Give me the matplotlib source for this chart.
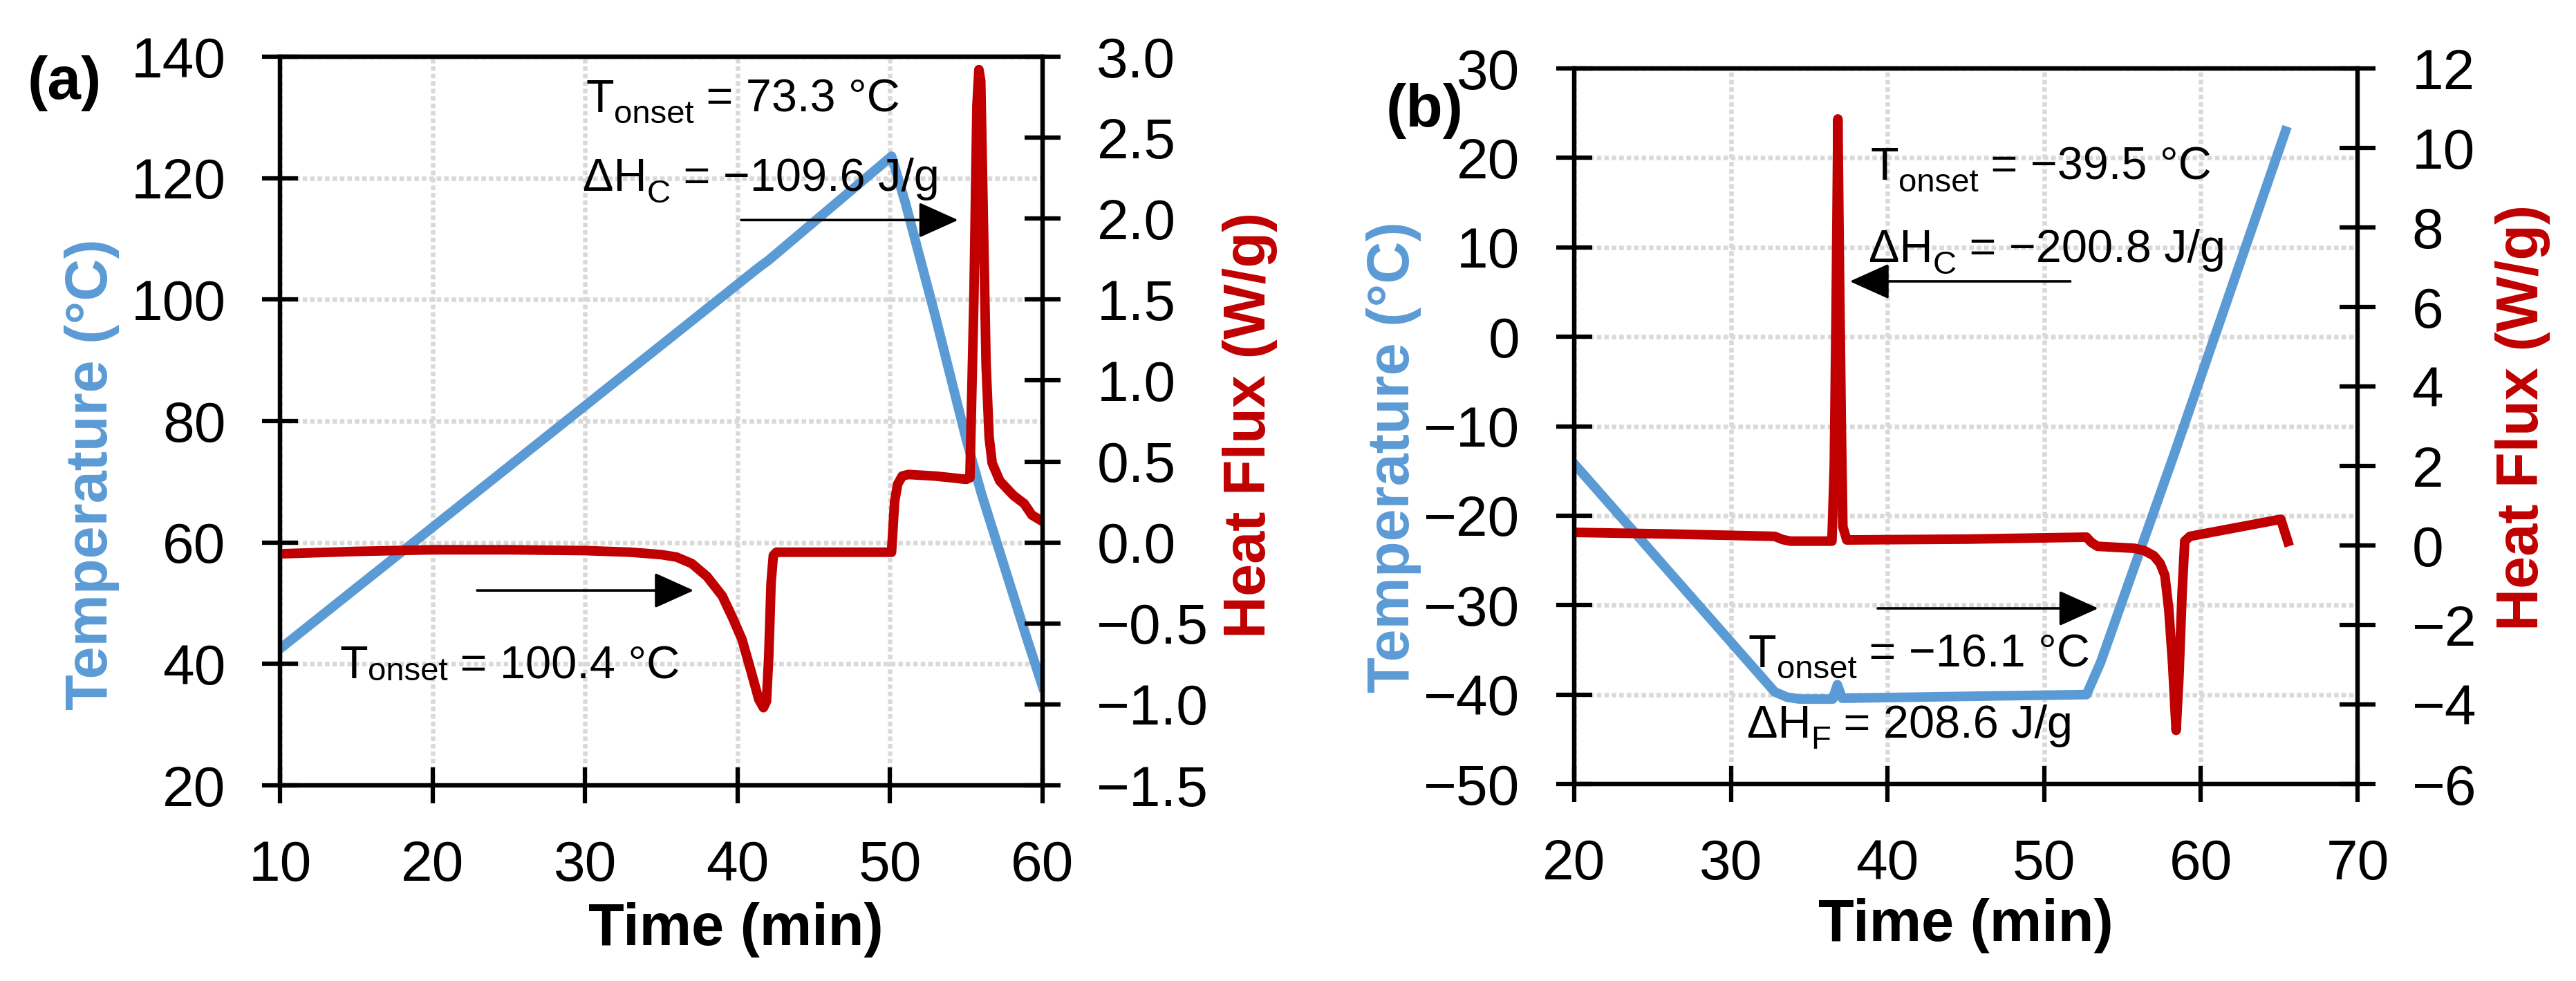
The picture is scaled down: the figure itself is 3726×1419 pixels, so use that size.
import numpy as np
import matplotlib
matplotlib.use('Agg')
from matplotlib import pyplot as plt
from matplotlib.ticker import FuncFormatter

plt.rcParams['font.family'] = ['Liberation Sans', 'DejaVu Sans']

BLUE = '#5b9bd5'
RED = '#c00000'
GRID = '#d9d9d9'

TICK_FS = 59
LABEL_FS = 61
NOTE_FS = 48
SUB_FS = 34
LW = 10

# (a) temperature programme and heat flux
time_a_temp = [10, 41.5, 42.0, 50.1, 51, 52, 53, 54, 55, 56, 57, 58, 59, 60]
temp_a = [42.5, 105.5, 106.4, 123.6, 116, 106.5, 97, 87, 77, 68, 60, 52, 44, 36.3]

time_a_flux = [10, 15, 20, 25, 30, 33, 35, 36, 37, 38, 39, 39.7, 40.3, 40.9, 41.4,
               41.7, 41.9, 42.05, 42.2, 42.35, 42.55, 46, 50.1, 50.3, 50.5, 50.8,
               51.2, 53, 55.0, 55.24, 55.5, 55.7, 55.83, 55.95, 56.1, 56.3, 56.5,
               56.7, 57.2, 58.1, 58.8, 59.3, 60]
flux_a = [-0.07, -0.055, -0.045, -0.045, -0.05, -0.06, -0.075, -0.09, -0.13, -0.21,
          -0.33, -0.47, -0.60, -0.80, -0.97, -1.02, -0.98, -0.70, -0.25, -0.08,
          -0.06, -0.06, -0.06, 0.25, 0.36, 0.41, 0.42, 0.41, 0.39, 0.40, 1.5, 2.7,
          2.92, 2.85, 2.1, 1.1, 0.65, 0.49, 0.38, 0.29, 0.24, 0.17, 0.13]

# (b) temperature programme and heat flux
time_b_temp = [20, 32.8, 33.6, 34.4, 36.5, 36.8, 37.1, 37.5, 45, 52.7, 53.6, 58.3, 65.4]
temp_b = [-14.2, -39.7, -40.3, -40.5, -40.5, -38.9, -40.4, -40.4, -40.2, -40.0,
          -36.4, -13.1, 23.0]

time_b_flux = [20, 26, 32.8, 33.3, 33.8, 36.45, 36.6, 36.72, 36.83, 36.93, 37.05,
               37.15, 37.4, 45, 52.7, 53.0, 53.4, 55.75, 56.4, 57.0, 57.4, 57.7,
               57.95, 58.2, 58.42, 58.6, 58.8, 58.97, 59.3, 65.1, 65.55]
flux_b = [0.33, 0.29, 0.23, 0.15, 0.11, 0.11, 2.0, 6.0, 10.73, 7.0, 3.0, 0.47, 0.14,
          0.16, 0.21, 0.08, -0.02, -0.07, -0.13, -0.26, -0.45, -0.75, -1.6, -3.0,
          -4.65, -3.3, -1.2, 0.11, 0.23, 0.66, 0.10]

xticks_a = [10, 20, 30, 40, 50, 60]
yticks_a = [20, 40, 60, 80, 100, 120, 140]
y2ticks_a = [-1.5, -1.0, -0.5, 0.0, 0.5, 1.0, 1.5, 2.0, 2.5, 3.0]
xticks_b = [20, 30, 40, 50, 60, 70]
yticks_b = [-50, -40, -30, -20, -10, 0, 10, 20, 30]
y2ticks_b = [-6, -4, -2, 0, 2, 4, 6, 8, 10, 12]


def minus(s):
    return s.replace('-', '\u2212')


def fig_setup(fig, rect, xticks, yticks, y2ticks, y2fmt):
    ax = fig.add_axes(rect)
    ax2 = ax.twinx()
    ax.set_xlim(xticks[0], xticks[-1])
    ax.set_ylim(yticks[0], yticks[-1])
    ax2.set_ylim(y2ticks[0], y2ticks[-1])
    ax.set_xticks(xticks)
    ax.set_yticks(yticks)
    ax2.set_yticks(y2ticks)
    ax2.yaxis.set_major_formatter(FuncFormatter(lambda v, p: minus(y2fmt % v)))
    ax.grid(True, color=GRID, lw=4.7, linestyle=(0, (1.0, 0.65)))
    for a in (ax, ax2):
        for sp in a.spines.values():
            sp.set_linewidth(4.5)
        a.tick_params(direction='inout', length=37, width=4.5, pad=38,
                      labelsize=TICK_FS)
    return ax, ax2


def sub_text(ax2, ref, x, y, main, sub, rest, drop=12):
    # main text, lowered subscript, then the rest back on the main baseline
    base = 0.212 * NOTE_FS
    t1 = ax2.text(x, y, main, transform=ref.transData, fontsize=NOTE_FS,
                  va='baseline', zorder=5)
    t2 = ax2.annotate(sub, xy=(1, 0), xycoords=t1, xytext=(0, base - drop),
                      textcoords='offset points', fontsize=SUB_FS,
                      va='baseline', zorder=5)
    ax2.annotate(rest, xy=(1, 0), xycoords=(t2, t1), xytext=(0, base),
                 textcoords='offset points', fontsize=NOTE_FS, va='baseline',
                 zorder=5)


def arrow(ax2, ref, start, end):
    ax2.annotate('', xy=end, xycoords=ref.transData, xytext=start,
                 textcoords=ref.transData, zorder=5,
                 arrowprops=dict(arrowstyle='-|>,head_length=0.4,head_width=0.18',
                                 mutation_scale=90, lw=2.6, color='k',
                                 shrinkA=0, shrinkB=0))


def labels(ax, ax2, temp_xy, flux_xy, time_xy):
    ax.set_ylabel('Temperature (°C)', color=BLUE, fontsize=LABEL_FS,
                  fontweight='bold', va='center')
    ax.yaxis.set_label_coords(*temp_xy)
    ax2.set_ylabel('Heat Flux (W/g)', color=RED, fontsize=LABEL_FS,
                   fontweight='bold', va='center')
    ax2.yaxis.set_label_coords(*flux_xy)
    ax.set_xlabel('Time (min)', fontsize=LABEL_FS, fontweight='bold', va='center')
    ax.xaxis.set_label_coords(*time_xy)


fig = plt.figure(figsize=(37.26, 14.19), dpi=100)

# panel (a)
ax, ax2 = fig_setup(fig, [0.1087, 0.1994, 0.2960, 0.7428],
                    xticks_a, yticks_a, y2ticks_a, '%.1f')
ax.plot(time_a_temp, temp_a, color=BLUE, lw=LW, solid_joinstyle='round')
ax2.plot(time_a_flux, flux_a, color=RED, lw=LW, solid_joinstyle='round')
labels(ax, ax2, (-0.2466, 0.427), (1.272, 0.494), (0.598, -0.198))
sub_text(ax2, ax, 30.04, 130.9, 'T', 'onset', ' = 73.3 °C')
sub_text(ax2, ax, 29.86, 117.9, 'ΔH', 'C', ' = −109.6 J/g')
arrow(ax2, ax, (40.24, 113.1), (54.47, 113.1))
arrow(ax2, ax, (22.92, 52.1), (37.13, 52.1))
sub_text(ax2, ax, 13.9, 37.6, 'T', 'onset', ' = 100.4 °C', drop=2)
fig.text(0.0107, 0.8992, '(a)', fontsize=63, fontweight='bold', va='baseline')

# panel (b)
bx, bx2 = fig_setup(fig, [0.6111, 0.2008, 0.3041, 0.7294],
                    xticks_b, yticks_b, y2ticks_b, '%.0f')
bx.plot(time_b_temp, temp_b, color=BLUE, lw=LW, solid_joinstyle='round')
bx2.plot(time_b_flux, flux_b, color=RED, lw=LW, solid_joinstyle='round')
labels(bx, bx2, (-0.230, 0.457), (1.211, 0.512), (0.5, -0.198))
sub_text(bx2, bx, 38.89, 17.56, 'T', 'onset', ' = −39.5 °C')
sub_text(bx2, bx, 38.8, 8.36, 'ΔH', 'C', ' = −200.8 J/g')
arrow(bx2, bx, (51.67, 6.2), (37.59, 6.2))
arrow(bx2, bx, (39.37, -30.36), (53.45, -30.36))
sub_text(bx2, bx, 31.12, -36.9, 'T', 'onset', ' = −16.1 °C')
sub_text(bx2, bx, 31.03, -44.8, 'ΔH', 'F', ' = 208.6 J/g')
fig.text(0.5381, 0.871, '(b)', fontsize=63, fontweight='bold', va='baseline')

fig.savefig('out.png', dpi=100)
